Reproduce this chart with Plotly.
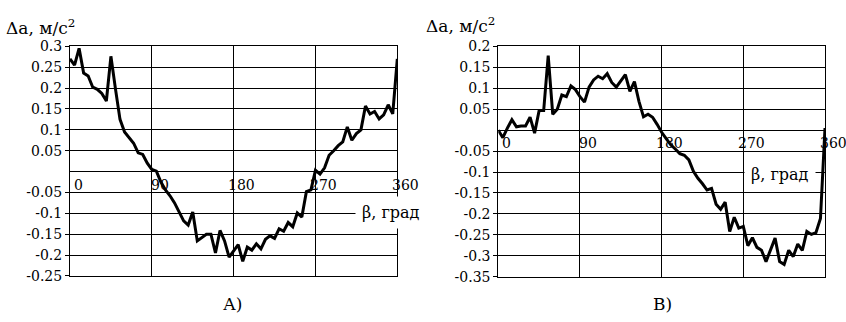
import plotly.graph_objects as go

# angle grid, degrees
beta = [0, 5, 10, 15, 20, 25, 30, 35, 40, 45, 50, 55, 60, 65, 70, 75, 80, 85, 90,
        95, 100, 105, 110, 115, 120, 125, 130, 135, 140, 145, 150, 155, 160, 165, 170, 175, 180,
        185, 190, 195, 200, 205, 210, 215, 220, 225, 230, 235, 240, 245, 250, 255, 260, 265, 270,
        275, 280, 285, 290, 295, 300, 305, 310, 315, 320, 325, 330, 335, 340, 345, 350, 355, 360]

# chart A
da_A = [0.270, 0.255, 0.295, 0.236, 0.229, 0.202, 0.197, 0.187, 0.169, 0.276,
        0.198, 0.125, 0.095, 0.080, 0.068, 0.045, 0.041, 0.020, 0.005, 0.001,
        -0.025, -0.044, -0.058, -0.075, -0.097, -0.118, -0.128, -0.097, -0.166, -0.158,
        -0.150, -0.150, -0.195, -0.141, -0.166, -0.205, -0.190, -0.175, -0.215, -0.181,
        -0.188, -0.173, -0.185, -0.162, -0.154, -0.160, -0.137, -0.143, -0.122, -0.132,
        -0.099, -0.109, -0.048, -0.044, 0.003, -0.006, 0.009, 0.039, 0.050, 0.062,
        0.071, 0.107, 0.075, 0.091, 0.100, 0.157, 0.138, 0.144, 0.126, 0.136,
        0.160, 0.138, 0.270]

# chart B
da_B = [0.000, -0.018, 0.005, 0.025, 0.008, 0.010, 0.010, 0.031, -0.007, 0.047,
        0.047, 0.178, 0.038, 0.050, 0.084, 0.080, 0.106, 0.097, 0.080, 0.067,
        0.103, 0.120, 0.129, 0.123, 0.135, 0.114, 0.103, 0.118, 0.133, 0.093,
        0.116, 0.069, 0.032, 0.038, 0.031, 0.014, -0.005, -0.020, -0.035, -0.045,
        -0.056, -0.060, -0.071, -0.098, -0.115, -0.128, -0.143, -0.139, -0.177, -0.189,
        -0.172, -0.242, -0.208, -0.234, -0.230, -0.276, -0.257, -0.280, -0.287, -0.314,
        -0.287, -0.258, -0.314, -0.321, -0.287, -0.302, -0.272, -0.287, -0.242, -0.249,
        -0.245, -0.211, 0.005]

x_ticks = [0, 90, 180, 270, 360]
x_tick_text = ["0", "90", "180", "270", "360"]
yticks_A = [0.3, 0.25, 0.2, 0.15, 0.1, 0.05, -0.05, -0.1, -0.15, -0.2, -0.25]
yticks_B = [0.2, 0.15, 0.1, 0.05, -0.05, -0.1, -0.15, -0.2, -0.25, -0.3, -0.35]
y_title = "Δa, м/с<sup>2</sup>"
x_title = "β, град"
panel_labels = ["А)", "В)"]

W, H = 846, 322
FONT = "DejaVu Serif"


def ytxt(vals):
    return [f"{v:g}" for v in vals]


fig = go.Figure()
fig.add_trace(go.Scatter(x=beta, y=da_A, mode="lines", line=dict(color="black", width=3),
                         xaxis="x", yaxis="y", showlegend=False))
fig.add_trace(go.Scatter(x=beta, y=da_B, mode="lines", line=dict(color="black", width=3),
                         xaxis="x2", yaxis="y2", showlegend=False))

common_x = dict(range=[0, 360], tickvals=x_ticks, showticklabels=False, showgrid=True,
                gridcolor="black", gridwidth=1, showline=True, linecolor="black",
                linewidth=1, mirror=True, zeroline=False, ticks="")
common_y = dict(showgrid=True, gridcolor="black", gridwidth=1, showline=True,
                linecolor="black", linewidth=1, mirror=True,
                zeroline=True, zerolinecolor="black", zerolinewidth=1,
                ticks="outside", ticklen=4, tickcolor="black",
                tickfont=dict(family=FONT, size=14, color="black"))

fig.update_layout(
    width=W, height=H,
    margin=dict(l=0, r=0, t=0, b=0),
    paper_bgcolor="white", plot_bgcolor="white",
    font=dict(family=FONT, color="black"),
    xaxis=dict(domain=[70 / W, 397.3 / W], anchor="y", **common_x),
    yaxis=dict(domain=[1 - 282 / H, 1 - 40.3 / H], anchor="x", range=[-0.25, 0.3],
               tickvals=yticks_A, ticktext=ytxt(yticks_A), **common_y),
    xaxis2=dict(domain=[498.3 / W, 825 / W], anchor="y2", **common_x),
    yaxis2=dict(domain=[1 - 282.7 / H, 1 - 40.5 / H], anchor="x2", range=[-0.35, 0.2],
                tickvals=yticks_B, ticktext=ytxt(yticks_B), **common_y),
)

ann = []
for xr, yr in (("x", "y"), ("x2", "y2")):
    for v, t in zip(x_ticks, x_tick_text):
        ann.append(dict(x=v, y=0, xref=xr, yref=yr, text=t, showarrow=False,
                        xanchor="center", yanchor="middle", xshift=8, yshift=-13,
                        font=dict(family=FONT, size=14, color="black")))

# y titles
ann.append(dict(x=40 / W, y=1 - 20 / H, xref="paper", yref="paper", text=y_title,
                showarrow=False, xanchor="center", yanchor="middle",
                font=dict(family=FONT, size=17, color="black")))
ann.append(dict(x=461 / W, y=1 - 18 / H, xref="paper", yref="paper", text=y_title,
                showarrow=False, xanchor="center", yanchor="middle",
                font=dict(family=FONT, size=17, color="black")))
# x titles with white boxes
ann.append(dict(x=391 / W, y=1 - 215 / H, xref="paper", yref="paper", text=x_title,
                showarrow=False, xanchor="center", yanchor="middle", bgcolor="white",
                borderpad=6, font=dict(family=FONT, size=16, color="black")))
ann.append(dict(x=780 / W, y=1 - 175 / H, xref="paper", yref="paper", text=x_title,
                showarrow=False, xanchor="center", yanchor="middle", bgcolor="white",
                borderpad=6, font=dict(family=FONT, size=16, color="black")))
# panel labels
ann.append(dict(x=233 / W, y=1 - 312 / H, xref="paper", yref="paper", text=panel_labels[0],
                showarrow=False, xanchor="center", yanchor="middle",
                font=dict(family=FONT, size=17, color="black")))
ann.append(dict(x=662 / W, y=1 - 312 / H, xref="paper", yref="paper", text=panel_labels[1],
                showarrow=False, xanchor="center", yanchor="middle",
                font=dict(family=FONT, size=17, color="black")))

fig.update_layout(annotations=ann)
fig.write_html("out.html")
